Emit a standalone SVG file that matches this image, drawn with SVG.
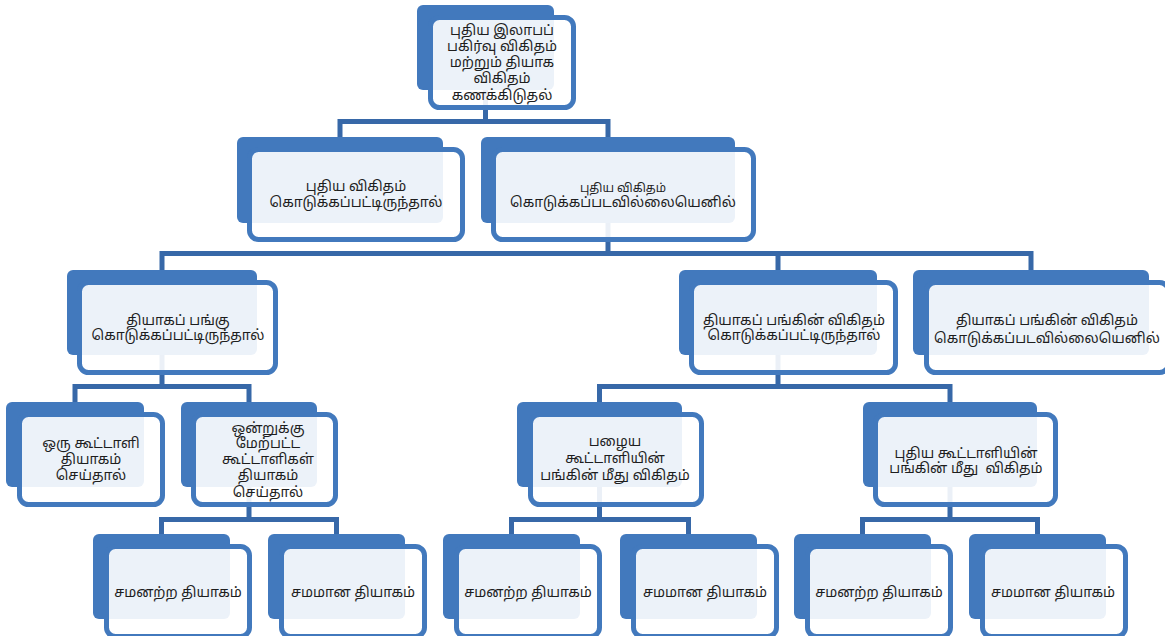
<svg xmlns="http://www.w3.org/2000/svg" width="1165" height="636" viewBox="0 0 1165 636">
<style>
.bk{fill:#4279BD}
.fr{fill:#ffffff;fill-opacity:0.9;stroke:#4279BD;stroke-width:5}
.cn{fill:none;stroke:#3768A8;stroke-width:5}
text{font-family:"Noto Sans Tamil","Noto Sans","DejaVu Sans",sans-serif;font-size:14px;fill:#1e1e1e;text-anchor:middle}
.sm{font-size:12px}
</style>
<rect width="1165" height="636" fill="#ffffff"/>
<g id="connectors">
<path class="cn" d="M485.5 90V121.5M340 121.5H608M340 119V137M608 119V137"/>
<path class="cn" d="M608 223V253.5M160 253.5H1032M162 251V270M778 251V270M1031 251V270"/>
<path class="cn" d="M162 355V386.5M75 386.5H249M75 384V402M249 384V402"/>
<path class="cn" d="M778 355V386.5M599.5 386.5H950M599.5 384V402M950 384V402"/>
<path class="cn" d="M249 487V519.5M161.5 519.5H336.5M161.5 517V534M336.5 517V534"/>
<path class="cn" d="M599.5 487V519.5M511.5 519.5H688.5M511.5 517V534M688.5 517V534"/>
<path class="cn" d="M950 487V519.5M862.5 519.5H1037.5M862.5 517V534M1037.5 517V534"/>
</g>
<g id="n0">
<rect class="bk" x="417" y="5" width="137" height="85" rx="6"/>
<rect class="fr" x="430.5" y="17.5" width="143" height="90" rx="9"/>
<text x="502" y="35">புதிய இலாபப்</text>
<text x="502" y="51">பகிர்வு விகிதம்</text>
<text x="502" y="67">மற்றும் தியாக</text>
<text x="502" y="83">விகிதம்</text>
<text x="502" y="100">கணக்கிடுதல்</text>
</g>
<g id="n1">
<rect class="bk" x="237" y="137" width="206" height="86" rx="6"/>
<rect class="fr" x="249.5" y="149.5" width="213" height="90" rx="9"/>
<text x="356" y="191">புதிய விகிதம்</text>
<text x="356" y="207">கொடுக்கப்பட்டிருந்தால்</text>
</g>
<g id="n2">
<rect class="bk" x="481" y="137" width="254" height="86" rx="6"/>
<rect class="fr" x="493.5" y="149.5" width="260" height="90" rx="9"/>
<text class="sm" x="623" y="192">புதிய விகிதம்</text>
<text x="623" y="207">கொடுக்கப்படவில்லையெனில்</text>
</g>
<g id="n3">
<rect class="bk" x="67" y="270" width="190" height="85" rx="6"/>
<rect class="fr" x="79.5" y="282.5" width="196" height="90" rx="9"/>
<text x="178" y="325">தியாகப் பங்கு</text>
<text x="178" y="340">கொடுக்கப்பட்டிருந்தால்</text>
</g>
<g id="n4">
<rect class="bk" x="679" y="270" width="198" height="85" rx="6"/>
<rect class="fr" x="691.5" y="282.5" width="204" height="90" rx="9"/>
<text x="794" y="325">தியாகப் பங்கின் விகிதம்</text>
<text x="794" y="340">கொடுக்கப்பட்டிருந்தால்</text>
</g>
<g id="n5">
<rect class="bk" x="913" y="270" width="236" height="85" rx="6"/>
<rect class="fr" x="926.5" y="282.5" width="242" height="90" rx="9"/>
<text x="1047" y="325">தியாகப் பங்கின் விகிதம்</text>
<text x="1047" y="343">கொடுக்கப்படவில்லையெனில்</text>
</g>
<g id="n6">
<rect class="bk" x="6" y="402" width="138" height="85" rx="6"/>
<rect class="fr" x="19.5" y="414.5" width="143" height="90" rx="9"/>
<text x="91" y="448">ஒரு கூட்டாளி</text>
<text x="91" y="464">தியாகம்</text>
<text x="91" y="480">செய்தால்</text>
</g>
<g id="n7">
<rect class="bk" x="181" y="402" width="136" height="85" rx="6"/>
<rect class="fr" x="193.5" y="414.5" width="142" height="90" rx="9"/>
<text x="268" y="433">ஒன்றுக்கு</text>
<text x="268" y="448">மேற்பட்ட</text>
<text x="268" y="464">கூட்டாளிகள்</text>
<text x="268" y="480">தியாகம்</text>
<text x="268" y="497">செய்தால்</text>
</g>
<g id="n8">
<rect class="bk" x="517" y="402" width="165" height="85" rx="6"/>
<rect class="fr" x="530.5" y="414.5" width="171" height="90" rx="9"/>
<text x="615" y="446">பழைய</text>
<text x="615" y="463">கூட்டாளியின்</text>
<text x="615" y="480">பங்கின் மீது விகிதம்</text>
</g>
<g id="n9">
<rect class="bk" x="863" y="402" width="174" height="85" rx="6"/>
<rect class="fr" x="875.5" y="414.5" width="180" height="90" rx="9"/>
<text x="966" y="458">புதிய கூட்டாளியின்</text>
<text x="966" y="473" style="white-space:pre">பங்கின் மீது  விகிதம்</text>
</g>
<g id="n10">
<rect class="bk" x="93" y="534" width="137" height="85" rx="6"/>
<rect class="fr" x="106.5" y="546.5" width="143" height="90" rx="9"/>
<text x="178" y="597">சமனற்ற தியாகம்</text>
</g>
<g id="n11">
<rect class="bk" x="268" y="534" width="137" height="85" rx="6"/>
<rect class="fr" x="281.5" y="546.5" width="143" height="90" rx="9"/>
<text x="353" y="597">சமமான தியாகம்</text>
</g>
<g id="n12">
<rect class="bk" x="443" y="534" width="137" height="85" rx="6"/>
<rect class="fr" x="456.5" y="546.5" width="143" height="90" rx="9"/>
<text x="528" y="597">சமனற்ற தியாகம்</text>
</g>
<g id="n13">
<rect class="bk" x="620" y="534" width="137" height="85" rx="6"/>
<rect class="fr" x="633.5" y="546.5" width="143" height="90" rx="9"/>
<text x="705" y="597">சமமான தியாகம்</text>
</g>
<g id="n14">
<rect class="bk" x="794" y="534" width="137" height="85" rx="6"/>
<rect class="fr" x="807.5" y="546.5" width="143" height="90" rx="9"/>
<text x="879" y="597">சமனற்ற தியாகம்</text>
</g>
<g id="n15">
<rect class="bk" x="969" y="534" width="137" height="85" rx="6"/>
<rect class="fr" x="982.5" y="546.5" width="143" height="90" rx="9"/>
<text x="1053" y="597">சமமான தியாகம்</text>
</g>
</svg>
